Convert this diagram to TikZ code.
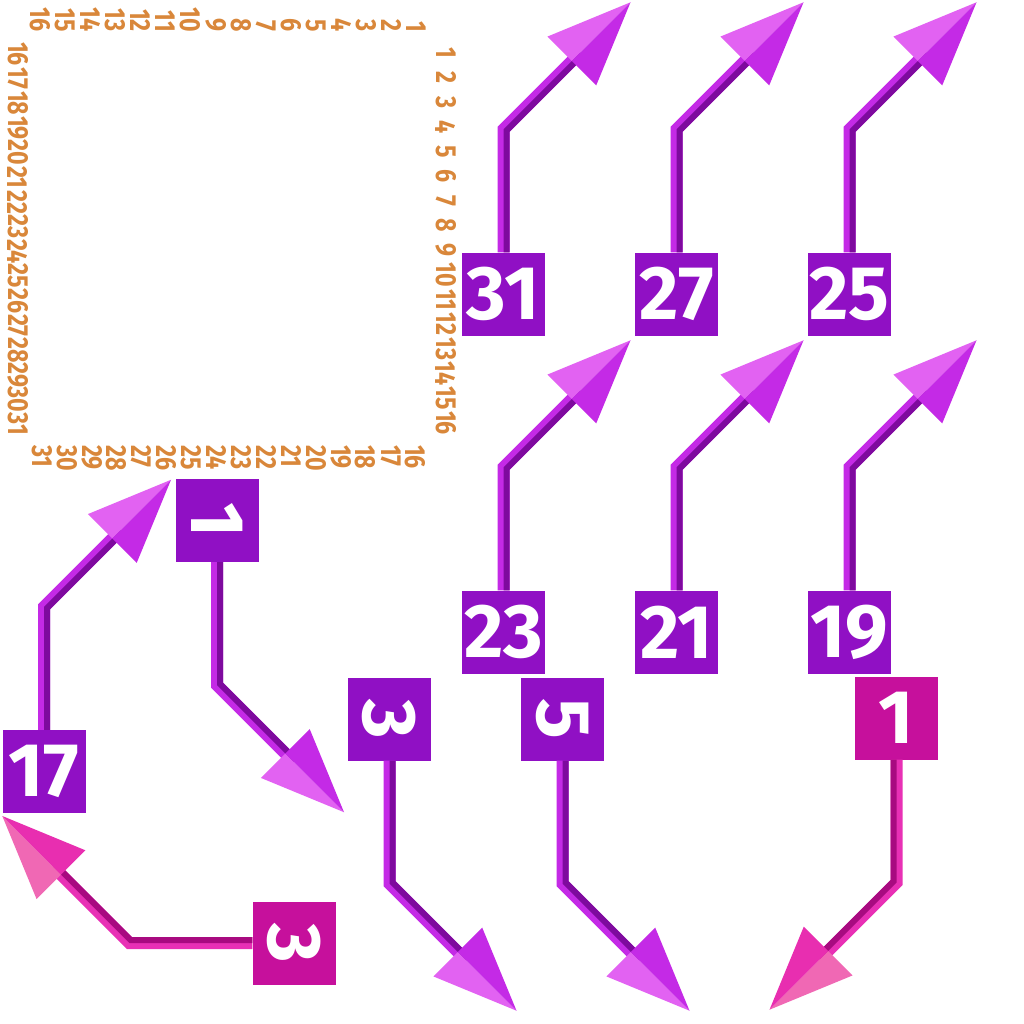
\documentclass[tikz,border=0pt]{standalone}
\usepackage{fontspec}
\newfontfamily\pxfont{Fira Sans}[Numbers={Proportional,Lining}]
\definecolor{boxP}{HTML}{9010C4}
\definecolor{boxM}{HTML}{C6109C}
\definecolor{PsL}{HTML}{C42AE6}
\definecolor{PsD}{HTML}{7E0A9E}
\definecolor{PhL}{HTML}{E262F2}
\definecolor{PhD}{HTML}{C42AE6}
\definecolor{MsL}{HTML}{E830B5}
\definecolor{MsD}{HTML}{A80A80}
\definecolor{MhL}{HTML}{F068B4}
\definecolor{MhD}{HTML}{E82EB0}
\definecolor{lbl}{HTML}{D9873A}
\newcommand\lbltext[1]{\scalebox{0.8}[1]{#1}}
\tikzset{
  pbox/.style={fill=boxP, minimum size=83pt, inner sep=0pt, text=white,
    font=\pxfont\bfseries\fontsize{76pt}{76pt}\selectfont},
  mbox/.style={pbox, fill=boxM},
  lab/.style={inner sep=0pt, text=lbl, rotate=-90,
    font=\pxfont\bfseries\fontsize{29pt}{29pt}\selectfont},
  fancy arrow/.pic={
    \draw[line width=12pt, draw=#1sL] (0,0) -- (0,123) -- (76,199);
    \draw[line width=6pt, draw=#1sD] (3,0) -- (3,121.757) -- (79,197.757);
    \fill[#1hL] (127,250) -- (68.31,191.31) -- (43.91,215.71) -- cycle;
    \fill[#1hD] (127,250) -- (68.31,191.31) -- (92.71,166.91) -- cycle;
    \coordinate (-tip) at (127,250);
  }
}
\begin{document}
\begin{tikzpicture}[x=1pt,y=1pt]
\useasboundingbox (0,0) rectangle (1024,-1024);
\fill[white] (0,0) rectangle (1024,-1024);
% orange frame labels
\foreach \k in {0,...,15} {
  \pgfmathtruncatemacro\v{16-\k}
  \node[lab, anchor=east] (top\v) at ({40+25.1*\k}, -32) {\lbltext{\v}};
  \pgfmathtruncatemacro\w{31-\k}
  \node[lab, anchor=west] (bot\w) at ({42+24.9*\k}, -445) {\lbltext{\w}};
  \pgfmathtruncatemacro\u{16+\k}
  \node[lab] (lft\u) at (18, {-54-24.67*\k}) {\lbltext{\u}};
  \pgfmathtruncatemacro\r{1+\k}
  \node[lab] (rgt\r) at (446, {-53-24.67*\k}) {\lbltext{\r}};
}
% boxes
\node[pbox] (b31) at (503.5,-294) {31};
\node[pbox] (b27) at (676.5,-294) {27};
\node[pbox] (b25) at (849.5,-294) {25};
\node[pbox] (b23) at (503.5,-632) {23};
\node[pbox] (b21) at (676.5,-632) {21};
\node[pbox] (b19) at (849.5,-632) {19};
\node[pbox] (b17) at (44,-771.5) {17};
\node[pbox] (b1) at (217,-520.5) {\rotatebox{-90}{1}};
\node[pbox] (b3) at (389.5,-719) {\rotatebox{-90}{3}};
\node[pbox] (b5) at (562.5,-719) {\rotatebox{-90}{5}};
\node[mbox] (m1) at (896.5,-718) {1};
\node[mbox] (m3) at (294,-943) {\rotatebox{-90}{3}};
% arrows
\foreach \b in {b31,b27,b25,b23,b21,b19,b17}
  \pic (a\b) at (\b.north) {fancy arrow=P};
\foreach \b in {b1,b3,b5}
  \pic[yscale=-1] (a\b) at (\b.south) {fancy arrow=P};
\pic[rotate=180] (am1) at (m1.south) {fancy arrow=M};
\pic[rotate=90] (am3) at (m3.west) {fancy arrow=M};
\end{tikzpicture}
\end{document}
